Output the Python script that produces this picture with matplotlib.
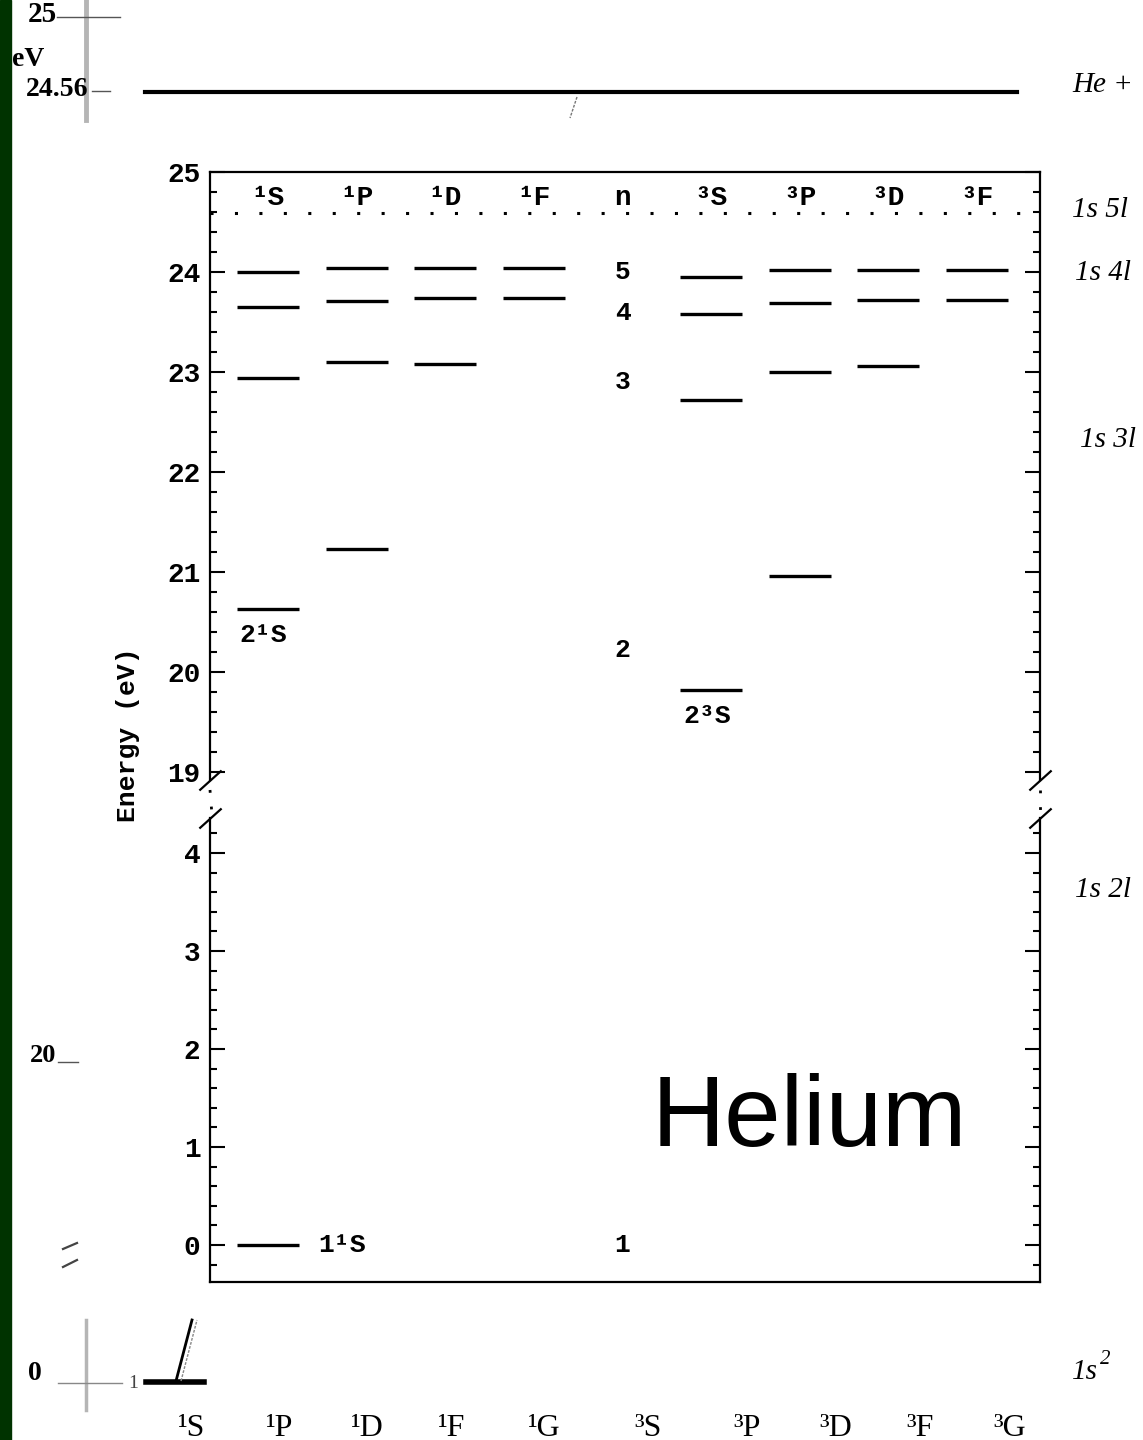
import matplotlib
matplotlib.use('Agg')
import matplotlib.pyplot as plt
from matplotlib.ticker import MultipleLocator

# term columns of the Grotrian diagram (index = x position)
columns = ['¹S', '¹P', '¹D', '¹F', 'n', '³S', '³P', '³D', '³F']

# energy levels (eV) per column
levels = {
    '¹S': [0.0, 20.63, 22.94, 23.65, 24.00],
    '¹P': [21.23, 23.10, 23.71, 24.04],
    '¹D': [23.08, 23.74, 24.04],
    '¹F': [23.74, 24.04],
    '³S': [19.82, 22.72, 23.58, 23.95],
    '³P': [20.96, 23.00, 23.69, 24.02],
    '³D': [23.06, 23.72, 24.02],
    '³F': [23.72, 24.02],
}
ionization = 24.59

# principal quantum number labels in the 'n' column
n_labels = ['1', '2', '3', '4', '5']
n_label_e = [0.0, 20.22, 22.90, 23.59, 24.00]

# named levels
named = [('¹S', 20.63, '2¹S'), ('³S', 19.82, '2³S')]
ground = ('¹S', 0.0, '1¹S')

# background diagram labels
bottom_terms = ['¹S', '¹P', '¹D', '¹F', '¹G', '³S', '³P', '³D', '³F', '³G']
bottom_x = [192, 280, 367, 452, 544, 648, 747, 836, 920, 1010]
right_labels = ['He +', '1s 5l', '1s 4l', '1s 3l', '1s 2l', '1s']
right_y = [85, 210, 273, 440, 890, 1372]
right_x = [1072, 1072, 1075, 1080, 1075, 1072]

mono = 'Liberation Mono'
serif = 'Liberation Serif'

fig = plt.figure(figsize=(11.43, 14.4), dpi=100)

# background layer in pixel coordinates
bg = fig.add_axes([0, 0, 1, 1], zorder=0)
bg.set_xlim(0, 1143)
bg.set_ylim(1440, 0)
bg.axis('off')
bg.axvspan(0, 11, color='#003300')

grey = '#b5b5b5'
bg.plot([86, 86], [0, 120], color=grey, lw=3.5)
bg.plot([57, 120], [17, 17], color='#555555', lw=1)
bg.plot([92, 110], [91, 91], color='#555555', lw=1)
bg.plot([145, 1017], [92, 92], color='k', lw=3)
bg.plot([577, 570], [97, 118], color='#777777', lw=1, ls=(0, (2, 1)))
bg.text(42, 15, '25', fontsize=21, family=serif, weight='bold', ha='center', va='center')
bg.text(28, 60, 'eV', fontsize=20, family=serif, weight='bold', ha='center', va='center')
bg.text(57, 90, '24.56', fontsize=20, family=serif, weight='bold', ha='center', va='center')
bg.text(43, 1055, '20', fontsize=19, family=serif, weight='bold', ha='center', va='center')
bg.plot([58, 78], [1062, 1062], color='#555555', lw=1)
bg.plot([63, 77], [1249, 1243], color='#444444', lw=1.6)
bg.plot([63, 77], [1267, 1260], color='#444444', lw=1.6)

bg.plot([86, 86], [1320, 1410], color=grey, lw=2.5)
bg.plot([58, 122], [1383, 1383], color='#888888', lw=1)
bg.text(35, 1373, '0', fontsize=20, family=serif, weight='bold', ha='center', va='center')
bg.text(133, 1383, '1', fontsize=14, family=serif, ha='center', va='center', color='#444444')
bg.plot([146, 204], [1382, 1382], color='k', lw=4)
bg.plot([176, 192], [1381, 1320], color='k', lw=2)
bg.plot([181, 197], [1381, 1320], color='#888888', lw=1, ls=(0, (2, 1)))

for t, x in zip(bottom_terms, bottom_x):
    bg.text(x, 1428, t, fontsize=23, family=serif, ha='center', va='center')
for t, x, y in zip(right_labels, right_x, right_y):
    bg.text(x, y, t, fontsize=21, family=serif, style='italic', ha='left', va='center')
bg.text(1100, 1360, '2', fontsize=15, family=serif, style='italic', ha='left', va='center')

bg.text(128, 735, 'Energy (eV)', fontsize=19, family=mono, weight='bold',
        rotation=90, ha='center', va='center')
bg.text(809, 1120, 'Helium', fontsize=73, family='Liberation Sans', ha='center', va='center')

# dotted continuation of the spines across the break
bg.plot([210, 212], [790, 815], color='k', lw=2, ls=(0, (1, 5)))
bg.plot([1040, 1040], [790, 815], color='k', lw=2, ls=(0, (1, 5)))

# main diagram: broken axis
W, H = 1143, 1440
left, right = 210 / W, 1040 / W
top_ax = fig.add_axes([left, 1 - 780 / H, right - left, (780 - 172) / H], zorder=2)
low_ax = fig.add_axes([left, 1 - 1282 / H, right - left, (1282 - 818) / H], zorder=2)
top_ax.set_ylim(18.92, 25)
low_ax.set_ylim(-0.378, 4.357)

half = 0.35
for ax in (top_ax, low_ax):
    ax.patch.set_alpha(0)
    ax.set_xlim(-0.655, 8.71)
    ax.set_xticks([])
    for s in ax.spines.values():
        s.set_linewidth(1.6)
    ax.yaxis.set_major_locator(MultipleLocator(1))
    ax.yaxis.set_minor_locator(MultipleLocator(0.2))
    ax.tick_params(axis='y', which='major', direction='in', length=11, width=1.5,
                   left=True, right=True, labelsize=20, pad=7)
    ax.tick_params(axis='y', which='minor', direction='in', length=5, width=1.5,
                   left=True, right=True)
    for lab in ax.get_yticklabels():
        lab.set_family(mono)
        lab.set_weight('bold')
    for i, col in enumerate(columns):
        if col in levels:
            e = levels[col]
            ax.hlines(e, i - half, i + half, color='k', lw=2.4)

top_ax.spines['bottom'].set_visible(False)
low_ax.spines['top'].set_visible(False)

top_ax.axhline(ionization, color='k', lw=2.2, ls=(0, (1, 7)))
for i, col in enumerate(columns):
    top_ax.text(i, 24.74, col, fontsize=20, family=mono, weight='bold', ha='center', va='center')

for lab, e in zip(n_labels, n_label_e):
    ax = low_ax if e < 10 else top_ax
    ax.text(columns.index('n'), e, lab, fontsize=19, family=mono, weight='bold',
            ha='center', va='center')

for col, e, lab in named:
    top_ax.annotate(lab, (columns.index(col) - 0.05, e), xytext=(0, -10),
                    textcoords='offset points', fontsize=19, family=mono,
                    weight='bold', ha='center', va='top')
col, e, lab = ground
low_ax.annotate(lab, (columns.index(col) + half, e), xytext=(14, 0),
                textcoords='offset points', fontsize=19, family=mono,
                weight='bold', ha='left', va='center')

# break marks
kw = dict(marker=[(-1, -0.9), (1, 0.9)], markersize=16, linestyle='none',
          color='k', mec='k', mew=1.6, clip_on=False)
top_ax.plot([0, 1], [0, 0], transform=top_ax.transAxes, **kw)
low_ax.plot([0, 1], [1, 1], transform=low_ax.transAxes, **kw)

fig.savefig('out.png', dpi=100)
